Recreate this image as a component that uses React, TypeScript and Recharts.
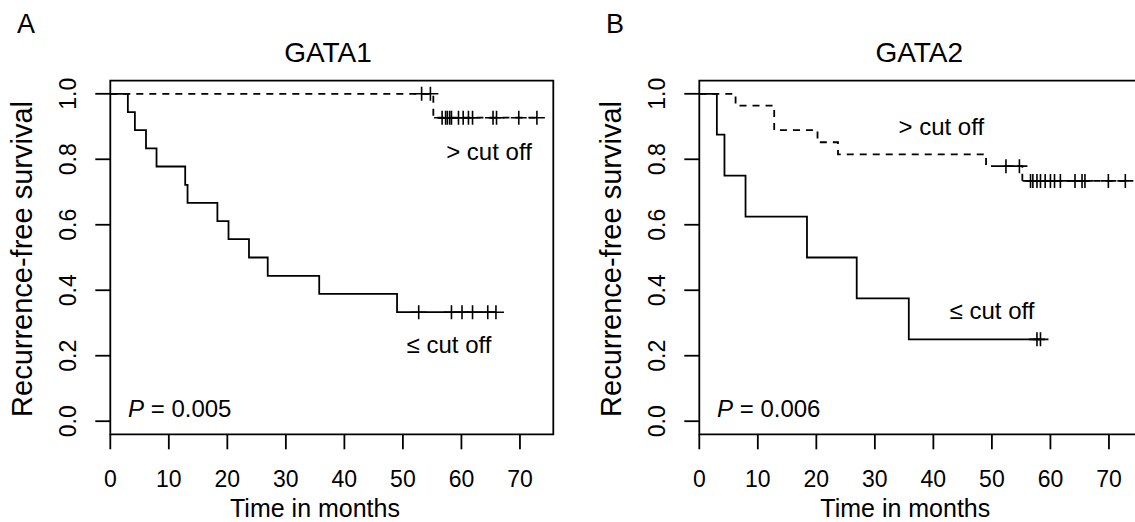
import React from "react";
import { ComposedChart, Line, Scatter, XAxis, YAxis, ReferenceArea } from "recharts";

const FONT = "'Liberation Sans', Arial, Helvetica, sans-serif";

// axis ticks
const timeTicks = [0, 10, 20, 30, 40, 50, 60, 70];
const survTicks = [0, 0.2, 0.4, 0.6, 0.8, 1.0];
const timeDomain: [number, number] = [0, 75.7];
const survDomain: [number, number] = [-0.04, 1.04];

// GATA1, <= cut off (solid)
const gata1LowEventTimes = [3.0, 4.2, 6.1, 7.9, 12.8, 13.2, 18.3, 20.2, 23.7, 26.9, 35.7, 49.0];
const gata1LowSurvival = [0.944, 0.889, 0.833, 0.778, 0.722, 0.667, 0.611, 0.556, 0.5, 0.444, 0.389, 0.333];
const gata1LowCensorTimes = [52.7, 58.3, 60.1, 61.9, 64.5, 65.9];

// GATA1, > cut off (dashed)
const gata1HighEventTimes = [55.2];
const gata1HighSurvival = [0.927];
const gata1HighCensorTimes = [53.2, 54.7, 56.7, 57.3, 57.6, 58.0, 58.3, 59.5, 60.3, 61.2, 61.9, 65.4, 66.0, 69.8, 72.9];

// GATA2, <= cut off (solid)
const gata2LowEventTimes = [3.0, 4.3, 7.9, 18.4, 26.9, 35.8];
const gata2LowSurvival = [0.875, 0.75, 0.625, 0.5, 0.375, 0.25];
const gata2LowCensorTimes = [57.7, 58.3];

// GATA2, > cut off (dashed)
const gata2HighEventTimes = [6.2, 12.8, 20.2, 23.7, 49.0, 55.2];
const gata2HighSurvival = [0.964, 0.889, 0.852, 0.815, 0.779, 0.734];
const gata2HighCensorTimes = [52.4, 54.7, 56.6, 57.0, 57.7, 58.3, 59.1, 60.0, 60.7, 61.7, 64.2, 65.4, 65.9, 69.9, 72.8];

type Pt = { t: number; s: number };

function survAt(events: number[], surv: number[], t: number): number {
  let s = 1;
  for (let i = 0; i < events.length; i++) if (events[i] <= t) s = surv[i];
  return s;
}

function buildCurve(events: number[], surv: number[], censors: number[]): Pt[] {
  const pts: Pt[] = [{ t: 0, s: 1 }];
  events.forEach((t, i) => pts.push({ t, s: surv[i] }));
  const lastT = Math.max(...censors, ...events);
  pts.push({ t: lastT, s: survAt(events, surv, lastT) });
  return pts;
}

function buildCensors(events: number[], surv: number[], censors: number[]): Pt[] {
  return censors.map((t) => ({ t, s: survAt(events, surv, t) }));
}

const Plus = (props: any) => {
  const { cx, cy } = props;
  if (cx == null || cy == null) return null;
  return (
    <g>
      <line x1={cx - 8} x2={cx + 8} y1={cy} y2={cy} stroke="#000" strokeWidth={1.6} />
      <line x1={cx} x2={cx} y1={cy - 7} y2={cy + 7} stroke="#000" strokeWidth={1.6} />
    </g>
  );
};

const YTick = (props: any) => {
  const { x, y, payload } = props;
  const bx = x - 19;
  return (
    <text x={bx} y={y} transform={`rotate(-90, ${bx}, ${y})`} textAnchor="middle" fontSize={23} fontFamily={FONT} fill="#000">
      {Number(payload.value).toFixed(1)}
    </text>
  );
};

const XTick = (props: any) => {
  const { x, y, payload } = props;
  return (
    <text x={x} y={y + 38} textAnchor="middle" fontSize={23} fontFamily={FONT} fill="#000">
      {payload.value}
    </text>
  );
};

type PanelProps = {
  left: number;
  letter: string;
  title: string;
  pValue: string;
  low: Pt[];
  lowCens: Pt[];
  high: Pt[];
  highCens: Pt[];
  highLabel: { x: number; y: number };
  lowLabel: { x: number; y: number };
  titleX: number;
  xLabelX: number;
};

const W = 580;
const H = 522;

function Panel(p: PanelProps) {
  return (
    <div style={{ position: "absolute", left: p.left, top: 0, width: W, height: H }}>
      <ComposedChart
        width={W}
        height={H}
        margin={{ top: 80.7, right: W - 553.3, bottom: H - 434.3 - 80, left: 10.3 }}
      >
        <XAxis
          dataKey="t"
          type="number"
          domain={timeDomain}
          ticks={timeTicks}
          allowDataOverflow
          axisLine={false}
          tickSize={15}
          tickMargin={0}
          height={80}
          tickLine={{ stroke: "#000", strokeWidth: 1.8 }}
          tick={<XTick />}
          interval={0}
        />
        <YAxis
          dataKey="s"
          type="number"
          domain={survDomain}
          ticks={survTicks}
          allowDataOverflow
          axisLine={false}
          tickSize={15}
          tickMargin={0}
          width={100}
          tickLine={{ stroke: "#000", strokeWidth: 1.8 }}
          tick={<YTick />}
          interval={0}
        />
        <ReferenceArea
          x1={timeDomain[0]}
          x2={timeDomain[1]}
          y1={survDomain[0]}
          y2={survDomain[1]}
          fill="none"
          fillOpacity={0}
          stroke="#000"
          strokeWidth={1.8}
          ifOverflow="visible"
        />
        <Line
          data={p.low}
          dataKey="s"
          type="stepAfter"
          stroke="#000"
          strokeWidth={1.8}
          dot={false}
          activeDot={false}
          isAnimationActive={false}
        />
        <Line
          data={p.high}
          dataKey="s"
          type="stepAfter"
          stroke="#000"
          strokeWidth={1.8}
          strokeDasharray="7 6"
          dot={false}
          activeDot={false}
          isAnimationActive={false}
        />
        <Scatter data={p.lowCens} dataKey="s" shape={<Plus />} isAnimationActive={false} />
        <Scatter data={p.highCens} dataKey="s" shape={<Plus />} isAnimationActive={false} />
      </ComposedChart>
      <svg
        width={W}
        height={H}
        style={{ position: "absolute", left: 0, top: 0, pointerEvents: "none" }}
        fontFamily={FONT}
      >
        <text x={26} y={33} fontSize={27} textAnchor="middle" fill="#000">{p.letter}</text>
        <text x={p.titleX} y={61.7} fontSize={28} textAnchor="middle" fill="#000">{p.title}</text>
        <text x={p.xLabelX} y={517} fontSize={25} textAnchor="middle" fill="#000">Time in months</text>
        <text
          x={32}
          y={259}
          fontSize={29}
          textAnchor="middle"
          transform={`rotate(-90, 32, 259)`}
          fill="#000"
        >
          Recurrence-free survival
        </text>
        <text x={p.highLabel.x} y={p.highLabel.y} fontSize={24} textAnchor="middle" fill="#000">&gt; cut off</text>
        <text x={p.lowLabel.x} y={p.lowLabel.y} fontSize={24} textAnchor="middle" fill="#000">≤ cut off</text>
        <text x={128} y={416.5} fontSize={24} fill="#000">
          <tspan fontStyle="italic">P</tspan>
          <tspan> = {p.pValue}</tspan>
        </text>
      </svg>
    </div>
  );
}

export default function App() {
  const offsetB = 588.7;
  return (
    <div style={{ position: "absolute", left: 0, top: 0, width: 1135, height: 522, overflow: "hidden", background: "#fff" }}>
      <Panel
        left={0}
        letter="A"
        title="GATA1"
        pValue="0.005"
        low={buildCurve(gata1LowEventTimes, gata1LowSurvival, gata1LowCensorTimes)}
        lowCens={buildCensors(gata1LowEventTimes, gata1LowSurvival, gata1LowCensorTimes)}
        high={buildCurve(gata1HighEventTimes, gata1HighSurvival, gata1HighCensorTimes)}
        highCens={buildCensors(gata1HighEventTimes, gata1HighSurvival, gata1HighCensorTimes)}
        highLabel={{ x: 489, y: 160 }}
        lowLabel={{ x: 449, y: 353 }}
        titleX={328}
        xLabelX={315}
      />
      <Panel
        left={offsetB}
        letter="B"
        title="GATA2"
        pValue="0.006"
        low={buildCurve(gata2LowEventTimes, gata2LowSurvival, gata2LowCensorTimes)}
        lowCens={buildCensors(gata2LowEventTimes, gata2LowSurvival, gata2LowCensorTimes)}
        high={buildCurve(gata2HighEventTimes, gata2HighSurvival, gata2HighCensorTimes)}
        highCens={buildCensors(gata2HighEventTimes, gata2HighSurvival, gata2HighCensorTimes)}
        highLabel={{ x: 941 - offsetB, y: 135 }}
        lowLabel={{ x: 991.7 - offsetB, y: 319.3 }}
        titleX={919 - offsetB}
        xLabelX={905 - offsetB}
      />
    </div>
  );
}
